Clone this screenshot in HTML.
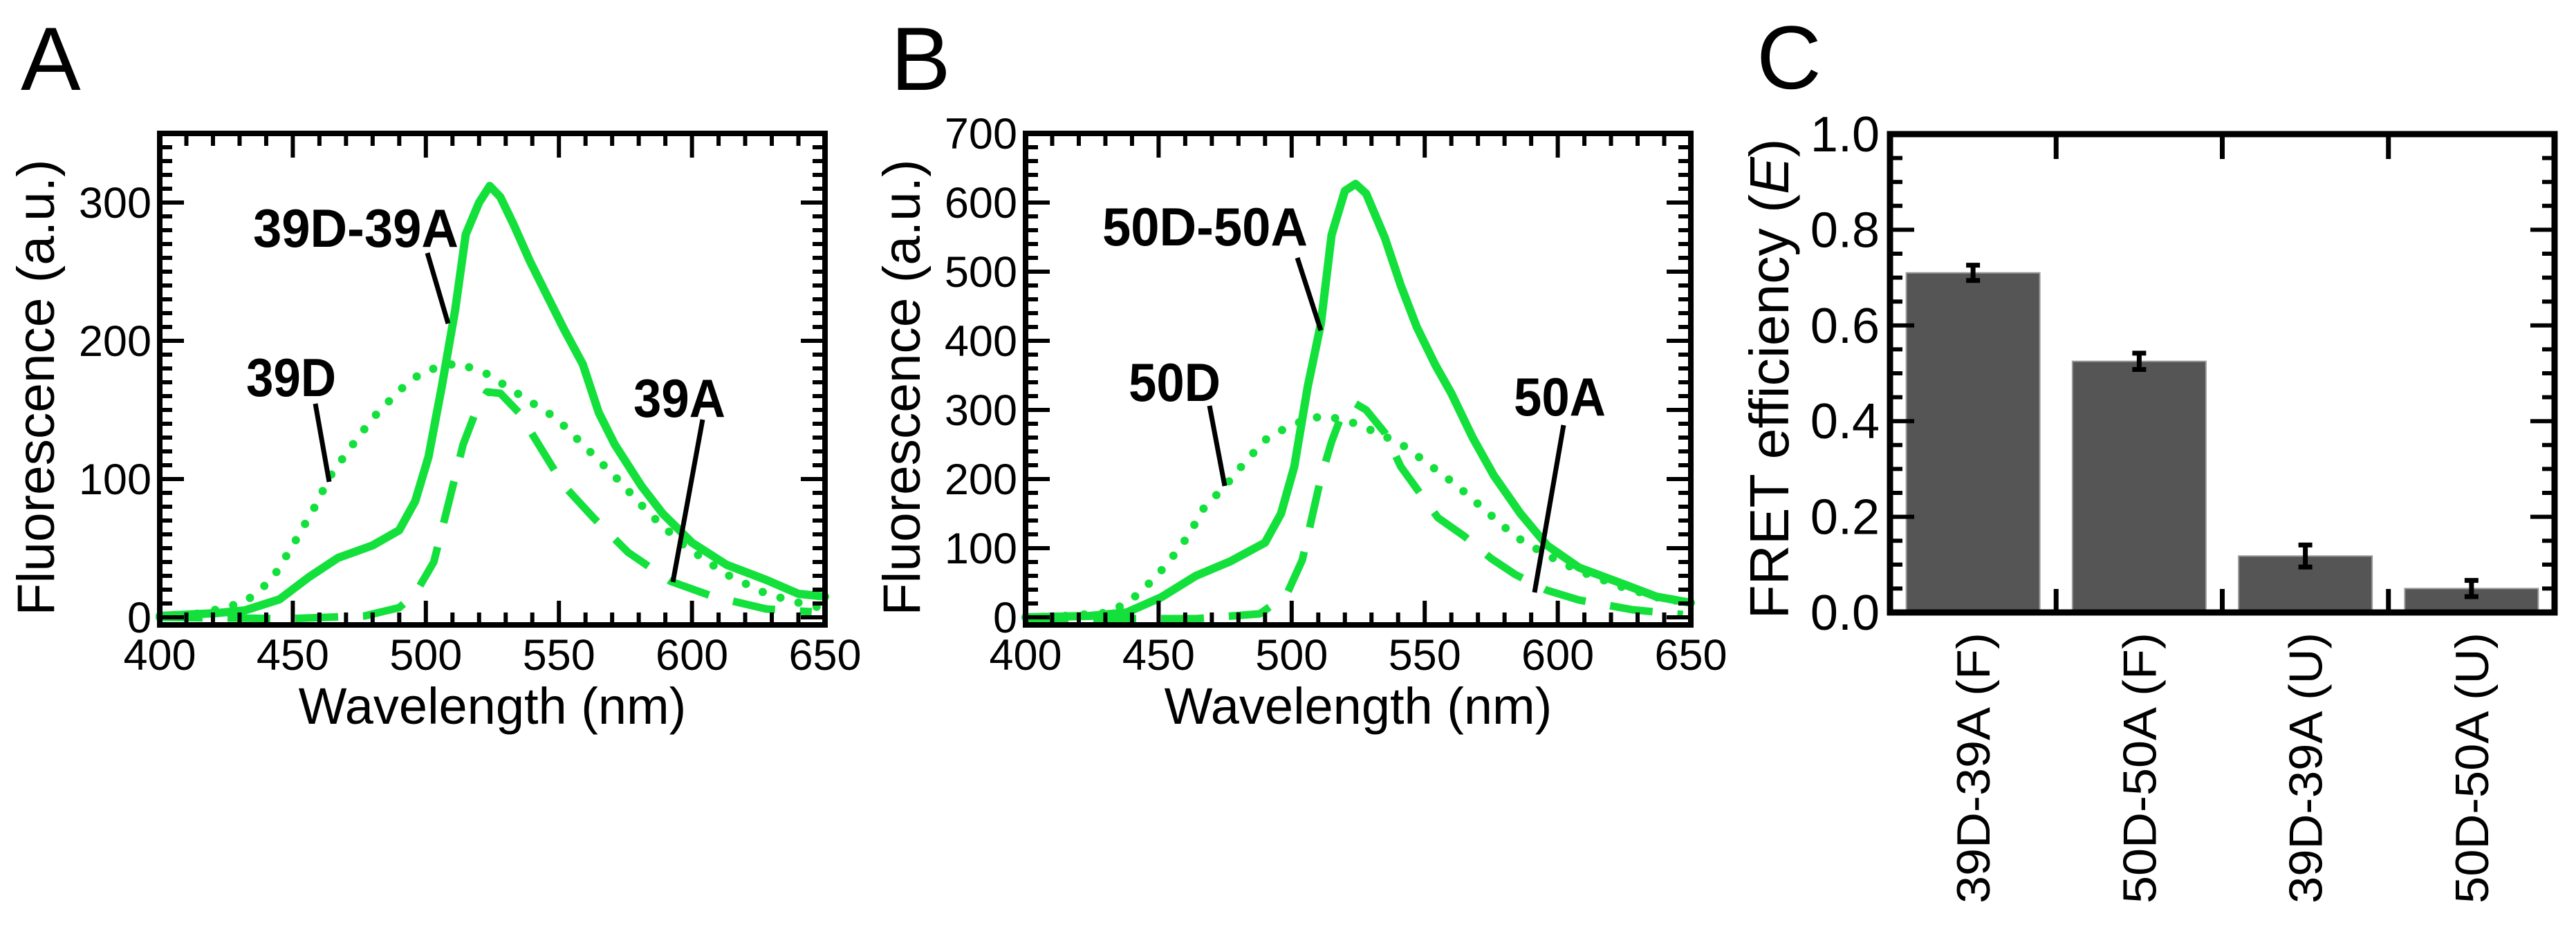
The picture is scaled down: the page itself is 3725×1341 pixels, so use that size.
<!DOCTYPE html>
<html><head><meta charset="utf-8"><style>
html,body{margin:0;padding:0;background:#fff}
svg{display:block}
text{font-family:"Liberation Sans",Arial,sans-serif;fill:#000}
</style></head><body>
<svg id="fig" width="3725" height="1341" viewBox="0 0 3725 1341" xmlns="http://www.w3.org/2000/svg">
<rect width="3725" height="1341" fill="#fff"/>
</svg>
<script>
// ---- Panel A data (wavelength nm, fluorescence a.u.) ----
const aSolidX=[400,421,432,445,456,467,480,490,496,501,506,511,515,520,524,528,533,539,546,552,559,565,571,581,589,600,613,628,640,650];
const aSolidY=[1,3,5,13,29,43,52,63,84,116,167,222,277,300,312,304,284,258,231,208,183,148,125,95,75,54,38,27,17,15];
const aDotX=[400,416,432,442,450,458,464,471,480,490,499,512,523,536,549,560,571,584,597,613,628,645,650];
const aDotY=[0,3,11,27,52,79,102,121,144,164,178,184,176,160,144,123,102,75,52,31,17,8,7];
const aDashX=[400,448,477,490,496,503,509,514,519,523,528,535,543,552,563,576,592,608,628,645];
const aDashY=[0,-1,1,7,17,40,86,125,150,163,162,148,123,95,72,47,26,15,6,4];
// ---- Panel B data ----
const bSolidX=[400,424,438,451,464,477,490,496,501,506,511,515,520,524,528,535,541,547,554,560,568,576,586,596,608,624,637,650];
const bSolidY=[0,2,7,29,60,81,108,150,218,333,425,553,617,627,613,549,480,420,365,324,260,205,150,104,72,49,30,21];
const bDotX=[408,432,443,453,461,467,475,483,491,501,512,522,531,541,551,562,573,584,596,608,624,640,650];
const bDotY=[0,7,35,76,117,158,190,227,260,280,292,283,269,251,223,191,154,117,90,67,44,26,22];
const bDashX=[400,464,488,498,504,511,515,519,524,528,535,541,547,555,565,575,584,596,608,628,647];
const bDashY=[-2,-2,5,32,83,202,254,295,309,300,267,218,186,144,117,85,62,39,25,11,4];
// ---- Panel C data ----
const cCategories=["39D-39A (F)","50D-50A (F)","39D-39A (U)","50D-50A (U)"];
const cValues=[0.71,0.525,0.118,0.05];
const cErrors=[0.016,0.017,0.023,0.017];
const cYTicks=[0.0,0.2,0.4,0.6,0.8,1.0];
const cYTickLabels=["0.0","0.2","0.4","0.6","0.8","1.0"];
const aYTicks=[0,100,200,300];
const bYTicks=[0,100,200,300,400,500,600,700];
const xTicks=[400,450,500,550,600,650];

const NS="http://www.w3.org/2000/svg";
const svg=document.getElementById('fig');
const GREEN="#14e03c";
function mk(tag,attrs,parent){const e=document.createElementNS(NS,tag);for(const k in attrs)e.setAttribute(k,attrs[k]);(parent||svg).appendChild(e);return e;}
function txt(s,attrs,parent){const e=mk('text',attrs,parent);e.textContent=s;return e;}

function panel(key,L,R,T,B,ymin,ymax,minorY,yTicks,curves,annots,letter,letterX){
  const g=mk('g',{});
  
  
  const xs=v=>L+(v-400)/(650-400)*(R-L);
  const ys=v=>B-(v-ymin)/(ymax-ymin)*(B-T);
  const styles={solid:{da:null,w:12,cap:'round'},dot:{da:'0 27',w:12,cap:'round'},dash:{da:'62 36',w:11,cap:'butt'}};
  curves.forEach(c=>{
    const st=styles[c.style];
    let d='';
    c.x.forEach((v,i)=>{d+=(i?'L':'M')+xs(v).toFixed(1)+','+ys(c.y[i]).toFixed(1);});
    const p=mk('path',{d:d,fill:'none',stroke:GREEN,'stroke-width':st.w,'stroke-linejoin':'round','stroke-linecap':st.cap},g);
    if(st.da)p.setAttribute('stroke-dasharray',st.da);
    
    
  });
  for(let v=400;v<=650;v+=10){
    const major=(v%50===0);const len=major?35:18;const x=xs(v);
    mk('line',{x1:x,x2:x,y1:B,y2:B-len,stroke:'#000','stroke-width':6},g);
    mk('line',{x1:x,x2:x,y1:T,y2:T+len,stroke:'#000','stroke-width':6},g);
  }
  for(let v=0;v<=ymax;v+=minorY){
    const major=(v%100===0);const len=major?35:18;const y=ys(v);
    mk('line',{x1:L,x2:L+len,y1:y,y2:y,stroke:'#000','stroke-width':6},g);
    mk('line',{x1:R,x2:R-len,y1:y,y2:y,stroke:'#000','stroke-width':6},g);
  }
  const fr=mk('rect',{x:L,y:T,width:R-L,height:B-T,fill:'none',stroke:'#000','stroke-width':8},g);
  
  
  xTicks.forEach(v=>{const t=txt(String(v),{x:xs(v),y:969,'font-size':63,'text-anchor':'middle'},g);
    
    });
  yTicks.forEach(v=>{const t=txt(String(v),{x:L-12,y:ys(v)+22,'font-size':63,'text-anchor':'end'},g);
    
    });
  const xt=txt('Wavelength (nm)',{x:(L+R)/2,y:1047,'font-size':74,'text-anchor':'middle'},g);
  
  
  const cy=(T+B)/2+12;
  const yt=txt('Fluorescence (a.u.)',{x:0,y:0,'font-size':76,'text-anchor':'middle',textLength:660,lengthAdjust:'spacingAndGlyphs',transform:`translate(${L-153},${cy}) rotate(-90)`},g);
  
  
  annots.forEach(a=>{
    const t=txt(a.label,{x:a.tx,y:a.ty,'font-size':78,'font-weight':'bold',textLength:a.tw,lengthAdjust:'spacingAndGlyphs'},g);
    
    
    const l=mk('line',{x1:a.l[0],y1:a.l[1],x2:a.l[2],y2:a.l[3],stroke:'#000','stroke-width':7},g);
    
    
  });
  const pl=txt(letter,{x:letterX,y:130,'font-size':130},g);
  
  
}

panel('a',231,1193,193,904,-5.5,350,10,aYTicks,
 [{name:'curve-39d-39a',style:'solid',x:aSolidX,y:aSolidY},{name:'curve-39d',style:'dot',x:aDotX,y:aDotY},{name:'curve-39a',style:'dash',x:aDashX,y:aDashY}],
 [{label:'39D-39A',tx:366,ty:357,tw:297,l:[618,366,648,468]},
  {label:'39D',tx:356,ty:573,tw:130,l:[456,584,476,697]},
  {label:'39A',tx:916,ty:603,tw:133,l:[1016,607,973,842]}],'A',30);
panel('b',1483,2445,193,904,-11,700,20,bYTicks,
 [{name:'curve-50d-50a',style:'solid',x:bSolidX,y:bSolidY},{name:'curve-50d',style:'dot',x:bDotX,y:bDotY},{name:'curve-50a',style:'dash',x:bDashX,y:bDashY}],
 [{label:'50D-50A',tx:1594,ty:355,tw:297,l:[1876,373,1910,478]},
  {label:'50D',tx:1632,ty:580,tw:133,l:[1749,587,1771,703]},
  {label:'50A',tx:2189,ty:601,tw:133,l:[2261,615,2219,857]}],'B',1288);

// ---- Panel C ----
(function(){
  const L=2733,R=3694,T=194,B=886;
  const g=mk('g',{});
  
  
  const ys=v=>B-v*(B-T);
  const cw=(R-L)/cCategories.length;const bw=193;
  cCategories.forEach((c,i)=>{
    const cx=L+cw*(i+0.5);
    const bar=mk('rect',{x:cx-bw/2,y:ys(cValues[i]),width:bw,height:B-ys(cValues[i]),fill:'#555556',stroke:'#9a9a9a','stroke-width':2},g);
    
    
    const y1=ys(cValues[i]+cErrors[i]),y2=ys(cValues[i]-cErrors[i]);
    const eb=mk('path',{d:`M${cx},${y1}L${cx},${y2}M${cx-10},${y1}L${cx+10},${y1}M${cx-10},${y2}L${cx+10},${y2}`,stroke:'#000','stroke-width':7,fill:'none'},g);
    
    
    const t=txt(c,{x:0,y:0,'font-size':68,'text-anchor':'end',textLength:392,lengthAdjust:'spacingAndGlyphs',transform:`translate(${cx+24},${B+29}) rotate(-90)`},g);
    
    
    if(i>0){const x=L+cw*i;
      mk('line',{x1:x,x2:x,y1:B,y2:B-34,stroke:'#000','stroke-width':7},g);
      mk('line',{x1:x,x2:x,y1:T,y2:T+36,stroke:'#000','stroke-width':7},g);}
  });
  for(let k=0;k<=20;k++){const v=k*0.05;const major=(k%4===0);const len=major?35:18;const y=ys(v);
    mk('line',{x1:L,x2:L+len,y1:y,y2:y,stroke:'#000','stroke-width':6},g);
    mk('line',{x1:R,x2:R-len,y1:y,y2:y,stroke:'#000','stroke-width':6},g);}
  const fr=mk('rect',{x:L,y:T,width:R-L,height:B-T,fill:'none',stroke:'#000','stroke-width':9},g);
  
  
  cYTicks.forEach((v,i)=>{const t=txt(cYTickLabels[i],{x:2718,y:ys(v)+25,'font-size':72,'text-anchor':'end'},g);
    
    });
  const yt=mk('text',{x:0,y:0,'font-size':80,'text-anchor':'middle',textLength:695,lengthAdjust:'spacingAndGlyphs',transform:`translate(2586,548) rotate(-90)`},g);
  
  
  yt.appendChild(document.createTextNode('FRET efficiency ('));
  const it=document.createElementNS(NS,'tspan');it.setAttribute('font-style','italic');it.textContent='E';yt.appendChild(it);
  yt.appendChild(document.createTextNode(')'));
  const pl=txt('C',{x:2540,y:128,'font-size':130},g);
  
  
})();
</script>
</body></html>
